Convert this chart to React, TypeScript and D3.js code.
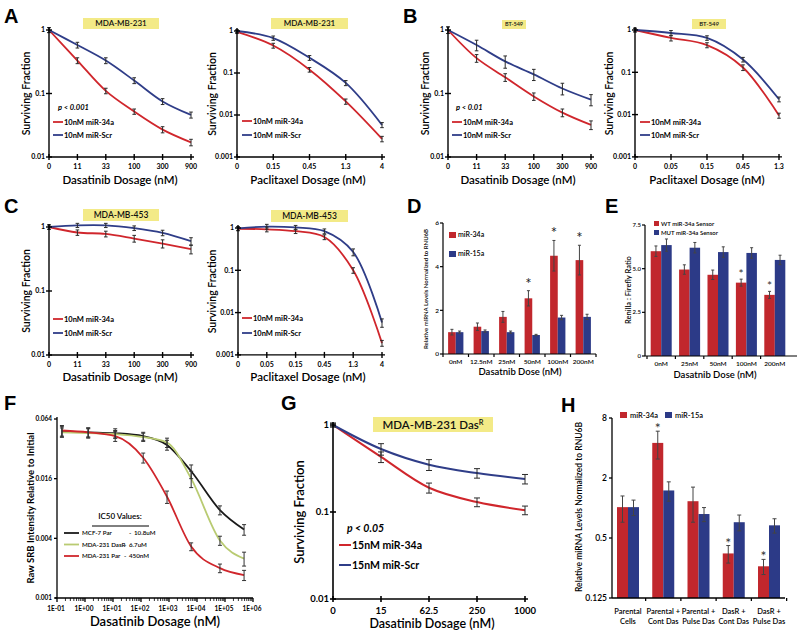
import React from 'react';
import * as d3 from 'd3';

const RED = '#d0262c';
const BLUE = '#2f3d88';
const BAR_RED = '#c1272d';
const BAR_BLUE = '#2c3a87';
const YELLOW = '#f3ea87';
const GREEN = '#b9cb72';
const FONT = 'Lato, "Open Sans", sans-serif';
const LFONT = '"Liberation Sans", Arial, sans-serif';

// ---------- survival curve data ----------
const dasDoses6 = ['0', '11', '33', '100', '300', '900'];
const pacDoses5a = ['0', '0.15', '0.45', '1.3', '4'];
const pacDoses5b = ['0', '0.05', '0.15', '0.45', '1.3'];
const pacDoses6 = ['0', '0.05', '0.15', '0.45', '1.3', '4'];
const gDoses = ['0', '15', '62.5', '250', '1000'];
const survTicks2 = [1, 0.1, 0.01];
const survTicks3 = [1, 0.1, 0.01, 0.001];

const aDas34a = [1, 0.33, 0.11, 0.052, 0.027, 0.017];
const aDasScr = [1, 0.58, 0.33, 0.16, 0.075, 0.046];
const aDas34aErr = [0.09, 0.035, 0.011, 0.005, 0.003, 0.002];
const aDasScrErr = [0.09, 0.06, 0.035, 0.017, 0.008, 0.005];

const aPac34a = [0.95, 0.45, 0.12, 0.021, 0.0027];
const aPacScr = [1, 0.68, 0.23, 0.058, 0.0058];
const aPac34aErr = [0.08, 0.06, 0.015, 0.003, 0.0004];
const aPacScrErr = [0.08, 0.08, 0.03, 0.008, 0.0008];

const bDas34a = [1, 0.36, 0.18, 0.09, 0.05, 0.032];
const bDasScr = [1, 0.58, 0.32, 0.2, 0.12, 0.08];
const bDas34aErr = [0.12, 0.05, 0.025, 0.012, 0.007, 0.005];
const bDasScrErr = [0.12, 0.11, 0.07, 0.04, 0.025, 0.016];

const bPac34a = [1, 0.65, 0.44, 0.13, 0.0095];
const bPacScr = [1, 0.85, 0.65, 0.2, 0.023];
const bPac34aErr = [0.1, 0.1, 0.06, 0.02, 0.0013];
const bPacScrErr = [0.1, 0.12, 0.08, 0.025, 0.003];

const cDas34a = [1, 0.82, 0.78, 0.66, 0.55, 0.45];
const cDasScr = [1, 1.06, 1.06, 0.96, 0.81, 0.6];
const cDas34aErr = [0.08, 0.08, 0.08, 0.08, 0.08, 0.07];
const cDasScrErr = [0.08, 0.08, 0.08, 0.08, 0.08, 0.08];

const cPac34a = [0.96, 0.93, 0.84, 0.61, 0.1, 0.0019];
const cPacScr = [0.98, 1.08, 1.03, 0.84, 0.27, 0.0058];
const cPac34aErr = [0.1, 0.12, 0.1, 0.08, 0.015, 0.0003];
const cPacScrErr = [0.1, 0.14, 0.12, 0.11, 0.05, 0.0013];

const g34a = [1, 0.43, 0.19, 0.13, 0.105];
const gScr = [1, 0.53, 0.35, 0.28, 0.24];
const g34aErr = [0.05, 0.06, 0.025, 0.015, 0.012];
const gScrErr = [0.05, 0.08, 0.05, 0.035, 0.03];

// ---------- D ----------
const dCats = ['0nM', '12.5nM', '25nM', '50nM', '100nM', '200nM'];
const d34a = [1.0, 1.25, 1.7, 2.55, 4.5, 4.3];
const d34aErr = [0.13, 0.17, 0.25, 0.35, 0.7, 0.68];
const d15a = [1.0, 1.05, 1.0, 0.87, 1.67, 1.7];
const d15aErr = [0.05, 0.05, 0.05, 0.03, 0.1, 0.12];
const dStars = [false, false, false, true, true, true];
const dYTicks = [0, 2, 4, 6];

// ---------- E ----------
const eCats = ['0nM', '25nM', '50nM', '100nM', '200nM'];
const eWT = [6.0, 4.95, 4.65, 4.2, 3.5];
const eWTErr = [0.3, 0.27, 0.27, 0.2, 0.2];
const eMUT = [6.35, 6.2, 5.95, 5.9, 5.5];
const eMUTErr = [0.35, 0.3, 0.3, 0.3, 0.27];
const eStars = [false, false, false, true, true];
const eYTicks = [0, 2.5, 5.0, 7.5];
const eYTickLabels = ['0', '2.5', '5.0', '7.5'];

// ---------- F ----------
const fDoses = [0.15, 1.3, 12, 120, 850, 6200, 66000, 480000];
const fMCF7 = [0.048, 0.047, 0.046, 0.043, 0.035, 0.019, 0.0077, 0.0049];
const fMCF7Err = [0.006, 0.005, 0.005, 0.004, 0.004, 0.003, 0.0008, 0.0006];
const fDasR = [0.047, 0.046, 0.045, 0.042, 0.037, 0.016, 0.0038, 0.0025];
const fDasRErr = [0.005, 0.005, 0.004, 0.004, 0.004, 0.003, 0.0004, 0.0004];
const fPar = [0.049, 0.047, 0.043, 0.026, 0.0105, 0.0033, 0.002, 0.0017];
const fParErr = [0.006, 0.005, 0.005, 0.003, 0.0015, 0.0003, 0.0002, 0.0002];
const fXTicks = [0.1, 1, 10, 100, 1e3, 1e4, 1e5, 1e6];
const fXTickLabels = ['1E-01', '1E+00', '1E+01', '1E+02', '1E+03', '1E+04', '1E+05', '1E+06'];
const fYTicks = [0.064, 0.016, 0.004, 0.001];

// ---------- H ----------
const hCats = [['Parental', 'Cells'], ['Parental +', 'Cont Das'], ['Parental +', 'Pulse Das'], ['DasR +', 'Cont Das'], ['DasR +', 'Pulse Das']];
const h34a = [1.02, 4.5, 1.17, 0.35, 0.26];
const h34aErr = [0.3, 1.4, 0.45, 0.07, 0.045];
const h15a = [1.02, 1.5, 0.87, 0.72, 0.67];
const h15aErr = [0.18, 0.33, 0.14, 0.13, 0.11];
const hStars = [false, true, false, true, true];
const hYTicks = [0.125, 0.5, 2, 8];

type ErrProps = { x: number; yTop: number; yBot: number; cap?: number; color?: string };
function ErrBar({ x, yTop, yBot, cap = 2, color = '#2a2a2a' }: ErrProps) {
  return (
    <g stroke={color} strokeWidth={1}>
      <line x1={x} x2={x} y1={yTop} y2={yBot} />
      <line x1={x - cap} x2={x + cap} y1={yTop} y2={yTop} />
      <line x1={x - cap} x2={x + cap} y1={yBot} y2={yBot} />
    </g>
  );
}

function Survival(props: any) {
  const { ax, y1, decPx, nDec, cats, step, s1, s2, e1, e2, title, tb, tfs, ylx, xlx, xly, xlabel,
    lg, labels, p, fs, sup } = props;
  const yTicks = nDec === 2 ? survTicks2 : survTicks3;
  const yB = y1 + nDec * decPx;
  const y = d3.scaleLog().domain([1, Math.pow(10, -nDec)]).range([y1, yB]);
  const x = d3.scalePoint<string>().domain(cats).range([ax, ax + step * (cats.length - 1)]);
  const xEnd = ax + step * (cats.length - 1) + 3;
  const line = d3.line<number>().x((_, i) => x(cats[i])!).y(d => y(d)).curve(d3.curveCatmullRom.alpha(0.5));
  const series = [
    { v: s1, e: e1, c: RED },
    { v: s2, e: e2, c: BLUE },
  ];
  return (
    <g fontFamily={FONT}>
      <rect x={tb[0]} y={tb[1]} width={tb[2]} height={tb[3]} fill={YELLOW} />
      <text x={tb[0] + tb[2] / 2} y={tb[1] + tb[3] / 2} dy="0.36em" textAnchor="middle" fontSize={tfs} fontWeight={600} fill="#111">
        {title}
        {sup ? <tspan dy="-0.45em" fontSize={tfs * 0.65}>{sup}</tspan> : null}
      </text>
      {series.map((s, k) => (
        <path key={k} d={line(s.v)!} fill="none" stroke={s.c} strokeWidth={fs.lw} />
      ))}
      {series.map((s, k) => s.v.map((v: number, i: number) => (
        <ErrBar key={k + '-' + i} x={x(cats[i])!} yTop={y(v + s.e[i])} yBot={y(Math.max(v - s.e[i], 1e-6))} cap={fs.cap} />
      )))}
      <g stroke="#000" strokeWidth={fs.aw}>
        <line x1={ax} x2={ax} y1={y1 - 3} y2={yB} />
        <line x1={ax} x2={xEnd} y1={yB} y2={yB} />
        {yTicks.map(t => <line key={t} x1={ax - 3} x2={ax + 3} y1={y(t)} y2={y(t)} />)}
        {cats.map((c: string) => <line key={c} x1={x(c)} x2={x(c)} y1={yB - 3} y2={yB + 3} />)}
      </g>
      {yTicks.map(t => (
        <text key={t} x={ax - 4} y={y(t)} dy="0.35em" textAnchor="end" fontSize={fs.tick} fontWeight={700}>{String(t)}</text>
      ))}
      {cats.map((c: string) => (
        <text key={c} x={x(c)} y={yB + fs.tickDy} textAnchor="middle" fontSize={fs.tick} fontWeight={700}>{c}</text>
      ))}
      <text transform={`translate(${ylx},${(y1 + yB) / 2}) rotate(-90)`} textAnchor="middle" fontSize={fs.ylab} fontWeight={600}>Surviving Fraction</text>
      <text x={xlx} y={xly} textAnchor="middle" fontSize={fs.xlab} fontWeight={600}>{xlabel}</text>
      {p ? <text x={p[0]} y={p[1]} fontSize={fs.leg} fontWeight={700} fontStyle="italic">{p[2]}</text> : null}
      {[RED, BLUE].map((c, k) => (
        <g key={c}>
          <line x1={lg[0]} x2={lg[0] + fs.lgw} y1={lg[1 + k]} y2={lg[1 + k]} stroke={c} strokeWidth={fs.lw} />
          <text x={lg[0] + fs.lgw + 1} y={lg[1 + k]} dy="0.35em" fontSize={fs.leg} fontWeight={700}>{labels[k]}</text>
        </g>
      ))}
    </g>
  );
}

const smallFs = { tick: 7, tickDy: 12, ylab: 10.5, xlab: 11.5, leg: 7.5, lw: 1.8, aw: 1.4, cap: 1.8, lgw: 10 };
const bigFs = { tick: 9.5, tickDy: 15, ylab: 13, xlab: 12.5, leg: 10.5, lw: 2, aw: 1.6, cap: 3, lgw: 12 };
const lab10 = ['10nM miR-34a', '10nM miR-Scr'];
const lab15 = ['15nM miR-34a', '15nM miR-Scr'];

function PanelD() {
  const x = d3.scaleBand<string>().domain(dCats).range([443, 596]).paddingInner(0.4).paddingOuter(0.2);
  const y = d3.scaleLinear().domain([0, 6]).range([354, 223]);
  const bw = x.bandwidth() / 2;
  const step = x.step();
  return (
    <g fontFamily={FONT}>
      {dCats.map((c, i) => {
        const x0 = x(c)!;
        return (
          <g key={c}>
            <rect x={x0} y={y(d34a[i])} width={bw} height={354 - y(d34a[i])} fill={BAR_RED} />
            <rect x={x0 + bw} y={y(d15a[i])} width={bw} height={354 - y(d15a[i])} fill={BAR_BLUE} />
            <ErrBar x={x0 + bw / 2} yTop={y(d34a[i] + d34aErr[i])} yBot={y(d34a[i] - d34aErr[i])} cap={1.5} color="#444" />
            <ErrBar x={x0 + bw * 1.5} yTop={y(d15a[i] + d15aErr[i])} yBot={y(d15a[i] - d15aErr[i])} cap={1.5} color="#444" />
            {dStars[i] ? <text x={x0 + bw / 2} y={y(d34a[i] + d34aErr[i]) - 2} textAnchor="middle" fontSize={15} fill="#222">*</text> : null}
            <text x={x0 + bw} y={364} textAnchor="middle" fontSize={6.5} fontWeight={600}>{c}</text>
          </g>
        );
      })}
      <g stroke="#000" strokeWidth={1.2}>
        <line x1={443} x2={443} y1={223} y2={354} />
        <line x1={443} x2={596} y1={354} y2={354} />
        {dYTicks.map(t => <line key={t} x1={440} x2={443} y1={y(t)} y2={y(t)} />)}
        {dCats.map((c) => <line key={c} x1={x(c)! - step * 0.2} x2={x(c)! - step * 0.2} y1={354} y2={357} />)}
        <line x1={596} x2={596} y1={354} y2={357} />
      </g>
      {dYTicks.map(t => <text key={t} x={439} y={y(t)} dy="0.35em" textAnchor="end" fontSize={6.5} fontWeight={600}>{t}</text>)}
      <text transform="translate(428,289) rotate(-90)" textAnchor="middle" fontSize={6} fontWeight={600}>Relative miRNA Levels Normalized to RNU6B</text>
      <text x={520} y={375} textAnchor="middle" fontSize={9.5} fontWeight={600}>Dasatnib Dose (nM)</text>
      <rect x={449} y={232} width={7} height={6} fill={BAR_RED} />
      <text x={458} y={235} dy="0.35em" fontSize={7} fontWeight={600}>miR-34a</text>
      <rect x={449} y={251} width={7} height={6} fill={BAR_BLUE} />
      <text x={458} y={254} dy="0.35em" fontSize={7} fontWeight={600}>miR-15a</text>
    </g>
  );
}

function PanelE() {
  const x = d3.scaleBand<string>().domain(eCats).range([647, 789]).paddingInner(0.26).paddingOuter(0.13);
  const y = d3.scaleLinear().domain([0, 7.5]).range([356, 225]);
  const bw = x.bandwidth() / 2;
  const step = x.step();
  return (
    <g fontFamily={FONT}>
      {eCats.map((c, i) => {
        const x0 = x(c)!;
        return (
          <g key={c}>
            <rect x={x0} y={y(eWT[i])} width={bw} height={356 - y(eWT[i])} fill={BAR_RED} />
            <rect x={x0 + bw} y={y(eMUT[i])} width={bw} height={356 - y(eMUT[i])} fill={BAR_BLUE} />
            <ErrBar x={x0 + bw / 2} yTop={y(eWT[i] + eWTErr[i])} yBot={y(eWT[i] - eWTErr[i])} cap={1.5} color="#444" />
            <ErrBar x={x0 + bw * 1.5} yTop={y(eMUT[i] + eMUTErr[i])} yBot={y(eMUT[i] - eMUTErr[i])} cap={1.5} color="#444" />
            {eStars[i] ? <text x={x0 + bw / 2} y={y(eWT[i] + eWTErr[i]) - 1} textAnchor="middle" fontSize={12} fill="#333">*</text> : null}
            <text x={x0 + bw} y={366} textAnchor="middle" fontSize={6.5} fontWeight={600}>{c}</text>
          </g>
        );
      })}
      <g stroke="#000" strokeWidth={1.2}>
        <line x1={645} x2={645} y1={225} y2={356} />
        <line x1={645} x2={797} y1={356} y2={356} />
        {eYTicks.map(t => <line key={t} x1={642} x2={645} y1={y(t)} y2={y(t)} />)}
        {eCats.map((c) => <line key={c} x1={x(c)! - step * 0.13} x2={x(c)! - step * 0.13} y1={356} y2={359} />)}
      </g>
      {eYTicks.map((t, i) => <text key={t} x={641} y={y(t)} dy="0.35em" textAnchor="end" fontSize={6} fontWeight={600}>{eYTickLabels[i]}</text>)}
      <text transform="translate(631,290) rotate(-90)" textAnchor="middle" fontSize={7.5} fontWeight={600}>Renilla : Firefly Ratio</text>
      <text x={715} y={378} textAnchor="middle" fontSize={9.5} fontWeight={600}>Dasatnib Dose (nM)</text>
      <rect x={654} y={221} width={5} height={5} fill={BAR_RED} />
      <text x={661} y={224} dy="0.35em" fontSize={6} fontWeight={600}>WT miR-34a Sensor</text>
      <rect x={654} y={230} width={5} height={5} fill={BAR_BLUE} />
      <text x={661} y={233} dy="0.35em" fontSize={6} fontWeight={600}>MUT miR-34a Sensor</text>
    </g>
  );
}

function PanelF() {
  const x = d3.scaleLog().domain([0.1, 1e6]).range([57, 253]);
  const y = d3.scaleLog().base(2).domain([0.064, 0.001]).range([419, 598]);
  const line = d3.line<number>().x((_, i) => x(fDoses[i])).y(d => y(d)).curve(d3.curveMonotoneX);
  const series = [
    { v: fMCF7, e: fMCF7Err, c: '#1a1a1a' },
    { v: fDasR, e: fDasRErr, c: GREEN },
    { v: fPar, e: fParErr, c: RED },
  ];
  const minor: number[] = [];
  for (let k = -1; k < 6; k++) for (let m = 2; m < 10; m++) minor.push(m * Math.pow(10, k));
  const legendRows = [
    { c: '#1a1a1a', a: 'MCF-7 Par', dx: 129, b: '10.8uM' },
    { c: GREEN, a: 'MDA-231 DasR', dx: 124, b: '6.7uM' },
    { c: RED, a: 'MDA-231 Par', dx: 124, b: '450nM' },
  ];
  return (
    <g fontFamily={FONT}>
      {series.map((s, k) => <path key={k} d={line(s.v)!} fill="none" stroke={s.c} strokeWidth={1.8} />)}
      {series.map((s, k) => s.v.map((v, i) => (
        <ErrBar key={k + '-' + i} x={x(fDoses[i])} yTop={y(v + s.e[i])} yBot={y(v - s.e[i])} cap={2} color="#333" />
      )))}
      <g stroke="#000" strokeWidth={1.3}>
        <line x1={57} x2={57} y1={417} y2={598} />
        <line x1={55} x2={253} y1={598} y2={598} />
        {fYTicks.map(t => <line key={t} x1={54} x2={57} y1={y(t)} y2={y(t)} />)}
        {fXTicks.map(t => <line key={t} x1={x(t)} x2={x(t)} y1={598} y2={602} />)}
      </g>
      <g stroke="#000" strokeWidth={0.8}>
        {minor.map(t => <line key={t} x1={x(t)} x2={x(t)} y1={598} y2={601} />)}
      </g>
      {fYTicks.map(t => <text key={t} x={52} y={y(t)} dy="0.35em" textAnchor="end" fontSize={6.5} fontWeight={700}>{String(t)}</text>)}
      {fXTicks.map((t, i) => <text key={t} x={x(t) - 1} y={611} textAnchor="middle" fontSize={6.5} fontWeight={700}>{fXTickLabels[i]}</text>)}
      <text transform="translate(34,508) rotate(-90)" textAnchor="middle" fontSize={9.5} fontWeight={700}>Raw SRB Intensity Relative to Initial</text>
      <text x={155} y={626} textAnchor="middle" fontSize={13} fontWeight={600}>Dasatinib Dosage (nM)</text>
      <text x={120} y={519} textAnchor="middle" fontSize={8} fontWeight={600}>IC50 Values:</text>
      <line x1={92} x2={149} y1={526} y2={526} stroke="#000" strokeWidth={1} />
      {legendRows.map((r, k) => (
        <g key={k}>
          <line x1={64} x2={79} y1={533 + k * 11.5} y2={533 + k * 11.5} stroke={r.c} strokeWidth={1.8} />
          <text x={82} y={533 + k * 11.5} dy="0.35em" fontSize={6.2} fontWeight={600}>{r.a}</text>
          <text x={r.dx} y={533 + k * 11.5} dy="0.35em" fontSize={6.2} fontWeight={600}>-</text>
          <text x={r.dx + 5} y={533 + k * 11.5} dy="0.35em" fontSize={6.2} fontWeight={600}>{r.b}</text>
        </g>
      ))}
    </g>
  );
}

function PanelH() {
  const x = d3.scalePoint<number>().domain(d3.range(hCats.length)).range([628, 769]);
  const y = d3.scaleLog().base(2).domain([0.125, 8]).range([598, 418]);
  const step = x.step();
  const bw = 11;
  return (
    <g fontFamily={FONT}>
      {hCats.map((c, i) => {
        const cx = x(i)!;
        return (
          <g key={i}>
            <rect x={cx - bw} y={y(h34a[i])} width={bw} height={598 - y(h34a[i])} fill={BAR_RED} />
            <rect x={cx} y={y(h15a[i])} width={bw} height={598 - y(h15a[i])} fill={BAR_BLUE} />
            <ErrBar x={cx - bw / 2} yTop={y(h34a[i] + h34aErr[i])} yBot={y(h34a[i] - h34aErr[i])} cap={2} color="#444" />
            <ErrBar x={cx + bw / 2} yTop={y(h15a[i] + h15aErr[i])} yBot={y(h15a[i] - h15aErr[i])} cap={2} color="#444" />
            {hStars[i] ? <text x={cx - bw / 2} y={y(h34a[i] + h34aErr[i]) + 2} textAnchor="middle" fontSize={14} fill="#333">*</text> : null}
            <text x={cx} y={614} textAnchor="middle" fontSize={7.5} fontWeight={600}>{c[0]}</text>
            <text x={cx} y={624} textAnchor="middle" fontSize={7.5} fontWeight={600}>{c[1]}</text>
          </g>
        );
      })}
      <g stroke="#000" strokeWidth={1.3}>
        <line x1={612} x2={612} y1={418} y2={598} />
        <line x1={612} x2={785} y1={598} y2={598} />
        {hYTicks.map(t => <line key={t} x1={609} x2={612} y1={y(t)} y2={y(t)} />)}
        {hCats.map((_, i) => <line key={i} x1={x(i)! + step / 2} x2={x(i)! + step / 2} y1={598} y2={601} />)}
      </g>
      {hYTicks.map(t => <text key={t} x={607} y={y(t)} dy="0.35em" textAnchor="end" fontSize={8.5} fontWeight={600}>{String(t)}</text>)}
      <text transform="translate(582,507) rotate(-90)" textAnchor="middle" fontSize={8.5} fontWeight={600}>Relative miRNA Levels Normalized to RNU6B</text>
      <rect x={620} y={412} width={7} height={6} fill={BAR_RED} />
      <text x={630} y={415} dy="0.35em" fontSize={7.5} fontWeight={600}>miR-34a</text>
      <rect x={665} y={412} width={7} height={6} fill={BAR_BLUE} />
      <text x={675} y={415} dy="0.35em" fontSize={7.5} fontWeight={600}>miR-15a</text>
    </g>
  );
}

const letters: [string, number, number][] = [
  ['A', 4, 23], ['B', 403, 23], ['C', 4, 213], ['D', 407, 213], ['E', 605, 213],
  ['F', 4, 410], ['G', 281, 410], ['H', 561, 412],
];

export default function App() {
  return (
    <svg width={800} height={636} style={{ position: 'absolute', left: 0, top: 0, background: '#fff' }}>
      <rect width={800} height={636} fill="#fff" />
      {letters.map(([t, x, y]) => (
        <text key={t} x={x} y={y} fontFamily={LFONT} fontWeight={700} fontSize={20}>{t}</text>
      ))}
      <Survival ax={49} y1={30} decPx={63.5} nDec={2} cats={dasDoses6} step={28.4}
        s1={aDas34a} s2={aDasScr} e1={aDas34aErr} e2={aDasScrErr}
        title="MDA-MB-231" tb={[83, 18, 76, 11]} tfs={8} ylx={30} xlx={120} xly={184}
        xlabel="Dasatinib Dosage (nM)" lg={[53, 122, 135]} labels={lab10} p={[58, 110, 'p < 0.001']} fs={smallFs} />
      <Survival ax={237} y1={31} decPx={42} nDec={3} cats={pacDoses5a} step={36.25}
        s1={aPac34a} s2={aPacScr} e1={aPac34aErr} e2={aPacScrErr}
        title="MDA-MB-231" tb={[271, 18, 77, 11]} tfs={8} ylx={216} xlx={308} xly={184}
        xlabel="Paclitaxel Dosage (nM)" lg={[242, 121, 135]} labels={lab10} fs={smallFs} />
      <Survival ax={448} y1={30} decPx={63.5} nDec={2} cats={dasDoses6} step={28.6}
        s1={bDas34a} s2={bDasScr} e1={bDas34aErr} e2={bDasScrErr}
        title="BT-549" tb={[502, 20, 24, 9]} tfs={5.5} ylx={429} xlx={518} xly={184}
        xlabel="Dasatinib Dosage (nM)" lg={[452, 122, 135]} labels={lab10} p={[456, 110, 'p < 0.01']} fs={smallFs} />
      <Survival ax={635} y1={30} decPx={42.3} nDec={3} cats={pacDoses5b} step={36}
        s1={bPac34a} s2={bPacScr} e1={bPac34aErr} e2={bPacScrErr}
        title="BT-549" tb={[692, 19, 34, 10]} tfs={6} ylx={613} xlx={707} xly={184}
        xlabel="Paclitaxel Dosage (nM)" lg={[640, 122, 135]} labels={lab10} fs={smallFs} />
      <Survival ax={49} y1={227} decPx={64} nDec={2} cats={dasDoses6} step={28.4}
        s1={cDas34a} s2={cDasScr} e1={cDas34aErr} e2={cDasScrErr}
        title="MDA-MB-453" tb={[83, 209, 76, 12]} tfs={8.5} ylx={30} xlx={120} xly={381}
        xlabel="Dasatinib Dosage (nM)" lg={[53, 319, 333]} labels={lab10} fs={smallFs} />
      <Survival ax={238} y1={228} decPx={42.3} nDec={3} cats={pacDoses6} step={28.8}
        s1={cPac34a} s2={cPacScr} e1={cPac34aErr} e2={cPacScrErr}
        title="MDA-MB-453" tb={[271, 210, 77, 12]} tfs={8.5} ylx={216} xlx={308} xly={381}
        xlabel="Paclitaxel Dosage (nM)" lg={[242, 318, 333]} labels={lab10} fs={smallFs} />
      <PanelD />
      <PanelE />
      <PanelF />
      <Survival ax={333} y1={425} decPx={87} nDec={2} cats={gDoses} step={48}
        s1={g34a} s2={gScr} e1={g34aErr} e2={gScrErr}
        title="MDA-MB-231 Das" sup="R" tb={[373, 417, 120, 15]} tfs={11.5} ylx={304} xlx={432} xly={628}
        xlabel="Dasatinib Dosage (nM)" lg={[339, 545, 565]} labels={lab15} p={[347, 532, 'p < 0.05']} fs={bigFs} />
      <PanelH />
    </svg>
  );
}
